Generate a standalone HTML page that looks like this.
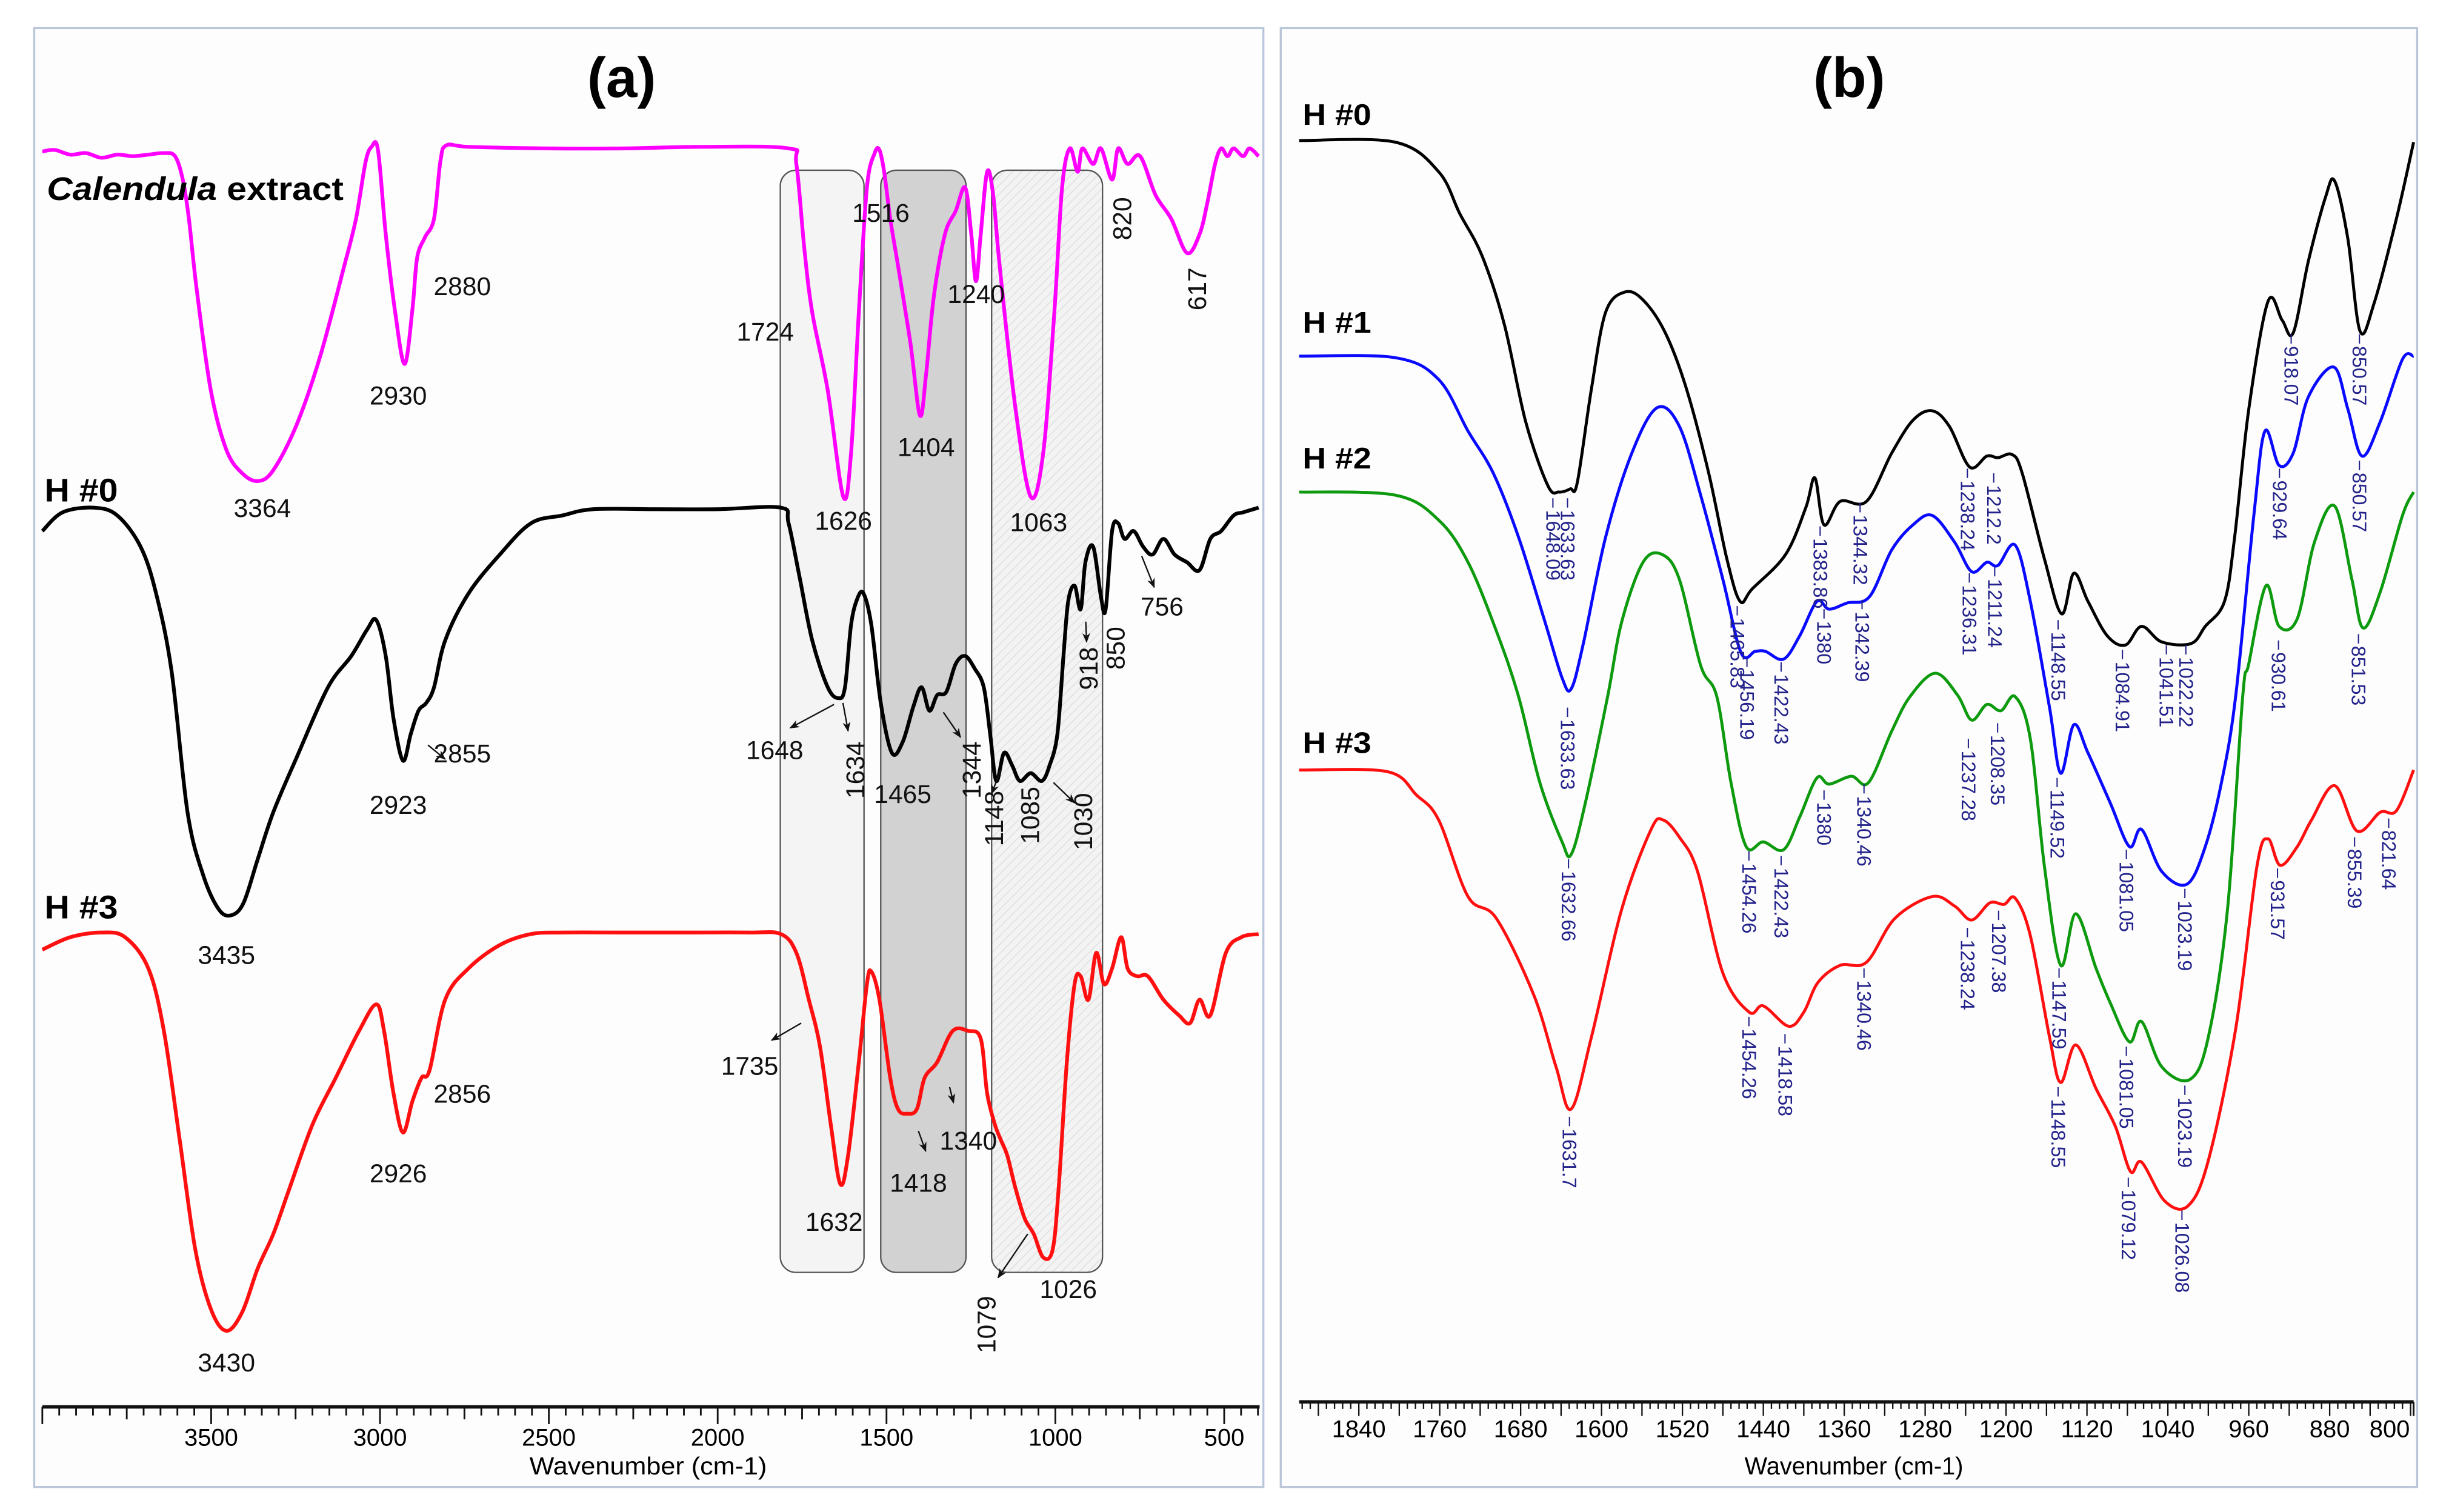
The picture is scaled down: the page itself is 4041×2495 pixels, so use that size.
<!DOCTYPE html>
<html><head><meta charset="utf-8"><title>FTIR spectra</title>
<style>
html,body{margin:0;padding:0;background:#fff;}
svg{display:block;}
text{font-family:"Liberation Sans",Arial,sans-serif;}
</style></head>
<body>
<svg id="chart" xmlns="http://www.w3.org/2000/svg" width="4041" height="2495" viewBox="0 0 1568 968" preserveAspectRatio="none">
<defs>
<marker id="arr" viewBox="0 0 10 10" refX="9" refY="5" markerWidth="7" markerHeight="7" orient="auto-start-reverse"><path d="M0,1 L10,5 L0,9 L3,5 z" fill="#111"/></marker>
<pattern id="hatch" patternUnits="userSpaceOnUse" width="4" height="4" patternTransform="rotate(45)"><rect width="4" height="4" fill="#f3f3f3"/><line x1="0" y1="0" x2="0" y2="4" stroke="#dcdcdc" stroke-width="1"/></pattern>
</defs>
<rect x="0" y="0" width="1568" height="968" fill="#ffffff"/>
<rect x="21.9" y="18" width="787" height="934" fill="#fdfdfd" stroke="#b9c5d8" stroke-width="1.3"/>
<rect x="820" y="18" width="727.6" height="934" fill="#fdfdfd" stroke="#b9c5d8" stroke-width="1.3"/>

<g>
<rect x="499.6" y="109" width="53.6" height="705.6" rx="10" fill="#f4f4f4" stroke="#555" stroke-width="0.9"/>
<rect x="563.9" y="109" width="54.6" height="705.6" rx="10" fill="#d2d2d2" stroke="#555" stroke-width="0.9"/>
<rect x="634.9" y="109" width="71" height="705.6" rx="10" fill="url(#hatch)" stroke="#555" stroke-width="0.9"/>
</g>

<g id="axes"></g>
<g id="curves"></g>
<g id="blabels"></g>

<text x="398" y="62" font-size="36" font-weight="bold" text-anchor="middle">(a)</text>
<text x="1184" y="62" font-size="36" font-weight="bold" text-anchor="middle">(b)</text>

<g font-weight="bold" font-size="21">
<text x="30" y="128" textLength="190" lengthAdjust="spacingAndGlyphs"><tspan font-style="italic">Calendula</tspan> extract</text>
<text x="28.5" y="321" textLength="47" lengthAdjust="spacingAndGlyphs">H #0</text>
<text x="28.5" y="588" textLength="47" lengthAdjust="spacingAndGlyphs">H #3</text>
</g>
<g font-weight="bold" font-size="19">
<text x="834" y="80" textLength="44" lengthAdjust="spacingAndGlyphs">H #0</text>
<text x="834" y="213" textLength="44" lengthAdjust="spacingAndGlyphs">H #1</text>
<text x="834" y="300" textLength="44" lengthAdjust="spacingAndGlyphs">H #2</text>
<text x="834" y="482" textLength="44" lengthAdjust="spacingAndGlyphs">H #3</text>
</g>

<g font-size="16.5" fill="#111" text-anchor="middle">
<text x="168" y="331">3364</text>
<text x="255" y="259">2930</text>
<text x="296" y="189">2880</text>
<text x="490" y="218">1724</text>
<text x="564" y="142">1516</text>
<text x="625" y="194">1240</text>
<text x="593" y="292">1404</text>
<text x="540" y="339">1626</text>
<text x="665" y="340">1063</text>
<text transform="translate(719,140) rotate(-90)" dominant-baseline="central">820</text>
<text transform="translate(767,185) rotate(-90)" dominant-baseline="central">617</text>
<text x="145" y="617">3435</text>
<text x="255" y="521">2923</text>
<text x="296" y="488">2855</text>
<text x="496" y="486">1648</text>
<text transform="translate(548,493) rotate(-90)" dominant-baseline="central">1634</text>
<text x="578" y="514">1465</text>
<text transform="translate(622.6,493) rotate(-90)" dominant-baseline="central">1344</text>
<text transform="translate(637,524) rotate(-90)" dominant-baseline="central">1148</text>
<text transform="translate(660,522) rotate(-90)" dominant-baseline="central">1085</text>
<text transform="translate(694,526) rotate(-90)" dominant-baseline="central">1030</text>
<text transform="translate(697.5,428) rotate(-90)" dominant-baseline="central">918</text>
<text transform="translate(714.8,415) rotate(-90)" dominant-baseline="central">850</text>
<text x="744" y="394">756</text>
<text x="145" y="878">3430</text>
<text x="255" y="757">2926</text>
<text x="296" y="706">2856</text>
<text x="480" y="688">1735</text>
<text x="534" y="788">1632</text>
<text x="588" y="763">1418</text>
<text x="620" y="736">1340</text>
<text x="684" y="831">1026</text>
<text transform="translate(632,848) rotate(-90)" dominant-baseline="central">1079</text>
</g>
<g stroke="#111" stroke-width="0.9" marker-end="url(#arr)">
<line x1="274" y1="477" x2="285" y2="486"/>
<line x1="534" y1="451" x2="506" y2="466"/>
<line x1="539.7" y1="450" x2="543" y2="468"/>
<line x1="604" y1="456" x2="615" y2="472"/>
<line x1="641" y1="492" x2="635" y2="508"/>
<line x1="674.5" y1="501" x2="688" y2="514"/>
<line x1="695.2" y1="398" x2="695.7" y2="411"/>
<line x1="731" y1="356" x2="739" y2="376"/>
<line x1="513" y1="655" x2="494" y2="666"/>
<line x1="588" y1="724" x2="592.7" y2="737"/>
<line x1="608" y1="696" x2="610.5" y2="706"/>
<line x1="658" y1="790" x2="639" y2="818"/>
</g>

<text x="339" y="944" font-size="16" textLength="152" lengthAdjust="spacingAndGlyphs">Wavenumber (cm-1)</text>
<text x="1117" y="944" font-size="16" textLength="140" lengthAdjust="spacingAndGlyphs">Wavenumber (cm-1)</text>
</svg>

<script>
// ---------- Panel (a) data: wavenumber (cm-1) and signal (a.u.) ----------
const calW=[4000,3963,3917,3871,3825,3778,3732,3686,3640,3607,3584,3566,3543,3501,3455,3408,3362,3316,3247,3177,3108,3071,3043,3025,3006,2983,2955,2927,2904,2890,2867,2840,2821,2803,2738,2506,2275,2044,1790,1767,1743,1720,1674,1628,1605,1582,1558,1535,1521,1507,1489,1466,1429,1401,1383,1360,1327,1295,1267,1249,1235,1221,1202,1184,1165,1119,1073,1036,1003,980,957,934,920,888,865,832,814,786,749,703,657,610,573,550,527,509,490,472,444,425,398];
const calV=[803,804,801,802,799,801,800,801,802,800,785,760,715,650,612,597,592,599,628,672,728,760,796,806,804,750,700,667,702,735,748,760,797,807,806,805,805,806,805,795,740,700,650,582,610,700,780,802,804,790,760,730,680,634,660,710,750,765,780,750,720,750,790,775,730,640,582,610,700,780,805,790,805,795,805,785,805,795,800,775,760,738,750,770,795,805,800,805,800,805,800];
const h0aW=[4000,3940,3848,3778,3709,3663,3617,3570,3524,3478,3441,3404,3362,3316,3247,3154,3085,3038,3011,2983,2960,2932,2909,2886,2863,2840,2807,2738,2645,2553,2460,2368,2183,1998,1813,1790,1757,1720,1674,1642,1623,1605,1586,1568,1545,1517,1484,1452,1420,1396,1373,1350,1323,1295,1267,1239,1212,1193,1175,1152,1128,1105,1073,1040,1017,994,976,962,943,925,911,888,865,851,832,814,795,768,740,712,680,647,610,573,541,509,472,444,398];
const h0aV=[560,572,575,570,550,520,470,380,340,318,314,322,350,380,415,460,480,497,503,480,440,413,430,445,450,460,490,520,545,565,570,574,574,574,575,565,530,490,460,453,460,500,517,520,500,450,418,425,448,460,445,455,457,475,480,472,460,430,400,418,410,400,405,400,410,430,480,515,525,510,540,550,518,510,560,565,555,560,550,545,555,545,540,535,555,560,570,572,575];
const h3aW=[4000,3917,3825,3755,3686,3640,3593,3547,3501,3455,3408,3362,3316,3270,3200,3131,3062,3011,2988,2960,2932,2904,2877,2853,2807,2738,2645,2553,2460,2275,2090,1905,1813,1767,1730,1697,1665,1637,1614,1582,1558,1545,1521,1489,1466,1438,1410,1387,1350,1304,1258,1221,1202,1179,1161,1142,1119,1091,1064,1036,1008,990,966,943,925,902,879,856,832,805,786,758,726,680,634,601,573,541,495,449,398];
const h3aV=[292,300,303,300,280,240,170,100,62,48,60,88,110,138,180,210,240,257,240,200,175,195,210,215,260,280,295,302,303,303,303,303,302,290,260,230,180,142,160,220,270,278,260,210,190,187,190,210,220,240,240,235,200,180,170,160,140,120,110,95,100,140,220,270,275,260,290,270,280,300,280,275,275,260,250,245,260,250,290,300,302];

// ---------- Panel (b) data ----------
const h0bW=[1899,1804,1761,1740,1718,1696,1675,1653,1642,1631,1624,1610,1596,1577,1559,1537,1516,1494,1476,1463,1451,1418,1398,1389,1380,1364,1338,1313,1292,1273,1256,1236,1219,1208,1194,1184,1162,1145,1133,1119,1100,1082,1066,1046,1017,1003,984,974,960,941,927,916,901,884,875,862,850,836,814,797];
const h0bV=[810,809,790,763,736,692,630,589,585,587,591,651,700,713,708,687,651,597,542,515,523,545,575,594,564,579,579,610,631,637,627,601,608,607,609,597,542,507,533,515,493,487,499,489,488,499,515,556,638,707,695,687,733,774,784,747,688,706,760,809];
const h1bW=[1899,1804,1761,1732,1707,1682,1656,1639,1630,1618,1596,1570,1545,1523,1502,1480,1462,1448,1438,1420,1404,1387,1375,1357,1335,1313,1292,1273,1251,1234,1219,1208,1191,1176,1157,1146,1133,1119,1097,1078,1066,1046,1021,1003,987,973,955,944,930,916,901,876,862,848,830,808,797];
const h1bV=[672,671,657,624,597,556,502,466,459,488,556,610,639,627,583,529,482,483,483,478,493,515,510,514,518,548,564,570,553,534,540,538,551,515,447,405,436,418,386,358,369,342,334,358,399,454,570,624,602,610,646,665,638,608,630,670,672];
const h2bW=[1899,1804,1761,1732,1704,1682,1661,1639,1630,1616,1594,1580,1559,1540,1523,1502,1486,1472,1457,1440,1420,1404,1387,1375,1353,1336,1313,1295,1270,1248,1234,1219,1205,1191,1176,1162,1146,1131,1111,1097,1078,1066,1046,1018,1000,981,966,960,943,930,912,895,875,858,847,830,808,797];
const h2bV=[585,583,567,540,496,454,399,361,353,386,454,502,540,545,529,474,454,399,358,361,356,377,402,398,403,399,432,454,469,455,439,449,445,454,427,345,282,315,280,258,233,246,217,209,236,318,454,475,525,499,504,553,576,529,498,521,570,585];
const h3bW=[1899,1812,1783,1761,1732,1704,1667,1645,1630,1610,1580,1551,1539,1523,1505,1480,1454,1440,1415,1400,1386,1364,1338,1310,1273,1251,1234,1216,1202,1191,1176,1157,1146,1131,1111,1092,1077,1066,1043,1020,1000,973,952,941,929,912,898,875,853,830,814,797];
const h3bV=[407,406,391,375,326,312,263,217,190,236,318,369,375,364,342,277,252,256,243,252,271,282,284,312,326,320,311,322,321,325,301,236,207,231,203,179,150,156,131,128,157,241,345,363,346,358,375,397,368,380,381,407];

// peak annotations in panel (b)
const bLabelText=["1648.09","1633.63","1465.83","1383.86","1344.32","1238.24","1212.2","1148.55","1084.91","1041.51","1022.22","918.07","850.57",
"1633.63","1456.19","1422.43","1380","1342.39","1236.31","1211.24","1149.52","1081.05","1023.19","929.64","850.57",
"1632.66","1454.26","1422.43","1380","1340.46","1237.28","1208.35","1147.59","1081.05","1023.19","930.61","851.53",
"1631.7","1454.26","1418.58","1340.46","1238.24","1207.38","1148.55","1079.12","1026.08","931.57","855.39","821.64"];
const bLabelV=[581,581,512,563,578,600,597,503,484,487,487,686,686,
447,479,476,510,516,533,537,402,356,331,600,605,
350,355,352,394,398,427,437,280,230,205,490,494,
185,249,238,280,306,317,204,146,125,344,364,376];

const aMajorTicks=[3500,3000,2500,2000,1500,1000,500];
const bTickLabels=[1840,1760,1680,1600,1520,1440,1360,1280,1200,1120,1040,960,880];

const NS="http://www.w3.org/2000/svg";
const xa=w=>135.2+(3500-w)*0.2162;
const xb=w=>870+(1840-w)*0.6475;
const yv=v=>900-v;

function smoothPath(pts){
  let d="M"+pts[0][0].toFixed(2)+","+pts[0][1].toFixed(2);
  for(let i=0;i<pts.length-1;i++){
    const p0=pts[Math.max(0,i-1)],p1=pts[i],p2=pts[i+1],p3=pts[Math.min(pts.length-1,i+2)];
    const c1x=p1[0]+(p2[0]-p0[0])/6,c1y=p1[1]+(p2[1]-p0[1])/6;
    const c2x=p2[0]-(p3[0]-p1[0])/6,c2y=p2[1]-(p3[1]-p1[1])/6;
    d+=" C"+c1x.toFixed(2)+","+c1y.toFixed(2)+" "+c2x.toFixed(2)+","+c2y.toFixed(2)+" "+p2[0].toFixed(2)+","+p2[1].toFixed(2);
  }
  return d;
}
const curves=document.getElementById("curves");
function addCurve(W,V,xf,color,name,sw){
  const p=document.createElementNS(NS,"path");
  const pts=W.map((w,i)=>[xf(w),yv(V[i])]);
  p.setAttribute("d",smoothPath(pts));
  p.setAttribute("fill","none");
  p.setAttribute("stroke",color);
  p.setAttribute("stroke-width",sw);
  p.setAttribute("stroke-linejoin","round");
  
  
  curves.appendChild(p);
}
addCurve(calW,calV,xa,"#ff00ff","spectrum-calendula-extract",2.4);
addCurve(h0aW,h0aV,xa,"#000000","spectrum-h0-panel-a",2.4);
addCurve(h3aW,h3aV,xa,"#ff1010","spectrum-h3-panel-a",2.4);
addCurve(h0bW,h0bV,xb,"#000000","spectrum-h0-panel-b",1.9);
addCurve(h1bW,h1bV,xb,"#0a0aff","spectrum-h1-panel-b",1.9);
addCurve(h2bW,h2bV,xb,"#0e9a0e","spectrum-h2-panel-b",1.9);
addCurve(h3bW,h3bV,xb,"#ff1010","spectrum-h3-panel-b",1.9);

const bl=document.getElementById("blabels");
bLabelText.forEach((t,i)=>{
  const x=xb(parseFloat(t)), y0=yv(bLabelV[i]);
  const ln=document.createElementNS(NS,"line");
  ln.setAttribute("x1",x);ln.setAttribute("x2",x);
  ln.setAttribute("y1",y0);ln.setAttribute("y2",y0+6);
  ln.setAttribute("stroke","#22228a");ln.setAttribute("stroke-width","0.8");
  
  
  bl.appendChild(ln);
  const tx=document.createElementNS(NS,"text");
  tx.setAttribute("transform","translate("+x.toFixed(2)+","+(y0+7.5).toFixed(2)+") rotate(90)");
  tx.setAttribute("dominant-baseline","central");
  tx.setAttribute("font-size","12.5");
  tx.setAttribute("fill","#22228a");
  tx.textContent=t;
  
  
  bl.appendChild(tx);
});

const ax=document.getElementById("axes");
function line(x1,y1,x2,y2,sw,name){
  const l=document.createElementNS(NS,"line");
  l.setAttribute("x1",x1);l.setAttribute("y1",y1);l.setAttribute("x2",x2);l.setAttribute("y2",y2);
  l.setAttribute("stroke","#111");l.setAttribute("stroke-width",sw);
  
  
  ax.appendChild(l);
}
function label(x,y,t,name){
  const tx=document.createElementNS(NS,"text");
  tx.setAttribute("x",x);tx.setAttribute("y",y);tx.setAttribute("font-size","15.5");
  tx.setAttribute("text-anchor","middle");tx.textContent=t;
  
  
  ax.appendChild(tx);
}
const AY=900.7;
line(xa(4000),AY,xa(395),AY,2.2,"x-axis-line-a");
for(let w=4000;w>=400;w-=50){
  const len=(w%500===0)?11:(w%250===0?8:5.5);
  line(xa(w),AY,xa(w),AY+len,1.1,"x-tick-a");
}
aMajorTicks.forEach(w=>label(xa(w),925.5,String(w),"x-tick-label-a"));
const BY=897.5;
line(xb(1899),BY,xb(797),BY,2.2,"x-axis-line-b");
for(let w=1896;w>=800;w-=8){
  const len=(w%40===0)?9:4.5;
  line(xb(w),BY,xb(w),BY+len,0.9,"x-tick-b");
}
line(xb(797),BY,xb(797),BY+9,1.1,"x-tick-b-end");
bTickLabels.forEach(w=>label(xb(w),920,String(w),"x-tick-label-b"));
label(1530,920,"800","x-tick-label-b");
</script>
</body></html>
